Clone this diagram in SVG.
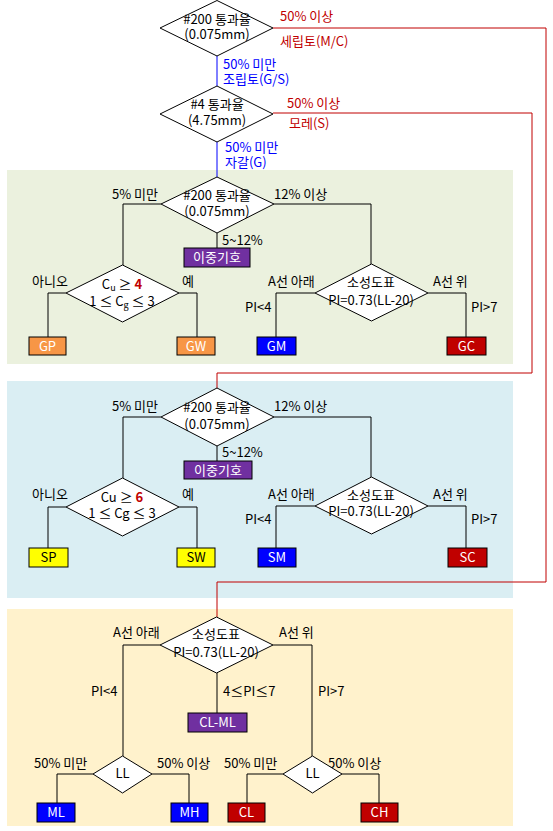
<svg xmlns="http://www.w3.org/2000/svg" width="553" height="831" viewBox="0 0 553 831">
<style>
text{font-family:"Malgun Gothic","Noto Sans CJK KR","Noto Sans",sans-serif;font-size:13px;fill:#000}
.c{text-anchor:middle}
.r{text-anchor:end}
.red{fill:#C00000}
.blue{fill:#0000FF}
.w{fill:#fff}
.k{stroke:#000;stroke-width:1;fill:none}
.kr{stroke:#C00000;stroke-width:1;fill:none}
.kb{stroke:#0000FF;stroke-width:1;fill:none}
.d{fill:#fff;stroke:#000;stroke-width:1}
.box{stroke:#000;stroke-width:1}
.pur{fill:#7030A0}
.org{fill:#F79646}
.bl{fill:#0000FF}
.dr{fill:#C00000}
.yl{fill:#FFFF00}
</style>
<g id="backgrounds">
<rect x="7" y="170" width="506" height="194" fill="#EBF1DE"/>
<rect x="7" y="381" width="506" height="217" fill="#DAEEF3"/>
<rect x="7" y="609" width="506" height="217" fill="#FFF2CC"/>
</g>
<g id="connectors">
<polyline class="kr" points="273,28 546,28 546,582 217,582 217,617"/>
<polyline class="kr" points="273,113 532,113 532,373 217,373 217,388"/>
<line class="kb" x1="217" y1="56" x2="217" y2="86"/>
<line class="kb" x1="217" y1="142" x2="217" y2="177"/>
<polyline class="k" points="161,204 123,204 123,265"/>
<polyline class="k" points="274,204 371,204 371,264"/>
<line class="k" x1="217" y1="233" x2="217" y2="248"/>
<polyline class="k" points="66,293 48,293 48,337"/>
<polyline class="k" points="179,293 197,293 197,337"/>
<polyline class="k" points="315,293 276,293 276,337"/>
<polyline class="k" points="428,293 466,293 466,337"/>
<polyline class="k" points="161,417 123,417 123,478"/>
<polyline class="k" points="274,417 371,417 371,477"/>
<line class="k" x1="217" y1="446" x2="217" y2="461"/>
<polyline class="k" points="66,507 48,507 48,548"/>
<polyline class="k" points="179,507 197,507 197,548"/>
<polyline class="k" points="315,506 276,506 276,548"/>
<polyline class="k" points="428,506 466,506 466,548"/>
<polyline class="k" points="160,645 123,645 123,756"/>
<polyline class="k" points="273,645 312,645 312,756"/>
<line class="k" x1="217" y1="673" x2="217" y2="713"/>
<polyline class="k" points="93,774 57,774 57,803"/>
<polyline class="k" points="152,774 189,774 189,803"/>
<polyline class="k" points="283,774 247,774 247,803"/>
<polyline class="k" points="342,774 379,774 379,803"/>
</g>
<g id="edge-labels">
<text class="red" x="280" y="21">50% 이상</text>
<text class="red" x="280" y="46">세립토(M/C)</text>
<text class="blue" x="223" y="69">50% 미만</text>
<text class="blue" x="223" y="84">조립토(G/S)</text>
<text class="red" x="287" y="108">50% 이상</text>
<text class="red" x="289" y="128">모레(S)</text>
<text class="blue" x="225" y="152">50% 미만</text>
<text class="blue" x="225" y="167">자갈(G)</text>
<text x="112" y="199">5% 미만</text>
<text x="274" y="199">12% 이상</text>
<text x="222" y="245">5~12%</text>
<text x="32" y="286">아니오</text>
<text x="182" y="286">예</text>
<text x="268" y="286">A선 아래</text>
<text x="433" y="286">A선 위</text>
<text x="245" y="312">PI&lt;4</text>
<text x="471" y="312">PI&gt;7</text>
<text x="112" y="411">5% 미만</text>
<text x="274" y="411">12% 이상</text>
<text x="222" y="457">5~12%</text>
<text x="32" y="499">아니오</text>
<text x="182" y="499">예</text>
<text x="268" y="499">A선 아래</text>
<text x="433" y="499">A선 위</text>
<text x="245" y="524">PI&lt;4</text>
<text x="471" y="524">PI&gt;7</text>
<text x="113" y="637">A선 아래</text>
<text x="279" y="637">A선 위</text>
<text x="91" y="696">PI&lt;4</text>
<text x="223" y="696">4≤PI≤7</text>
<text x="318" y="696">PI&gt;7</text>
<text x="34" y="768">50% 미만</text>
<text x="157" y="768">50% 이상</text>
<text x="224" y="768">50% 미만</text>
<text x="328" y="768">50% 이상</text>
</g>
<g id="n-fines200">
<polygon class="d" points="217,0.5 273,28 217,56 160,28"/>
<text class="c" x="217" y="24">#200 통과율</text>
<text class="c" x="217" y="39">(0.075mm)</text>
</g>
<g id="n-no4">
<polygon class="d" points="217,86 273,114 217,142 160,114"/>
<text class="c" x="217" y="109">#4 통과율</text>
<text class="c" x="217" y="125">(4.75mm)</text>
</g>
<g id="n-g-fines">
<polygon class="d" points="217,177 274,204 217,233 161,204"/>
<text class="c" x="217" y="200">#200 통과율</text>
<text class="c" x="217" y="216">(0.075mm)</text>
</g>
<g id="n-g-dual">
<rect class="box pur" x="184" y="248" width="66" height="19"/>
<text class="c w" x="217" y="262">이중기호</text>
</g>
<g id="n-g-cu">
<polygon class="d" points="122.5,265 179,293 122.5,322 66,293"/>
<text class="c" x="122" y="289">C<tspan font-size="9" dy="2">u</tspan><tspan dy="-2"> ≥ </tspan><tspan class="red" font-weight="bold">4</tspan></text>
<text class="c" x="122" y="306">1 ≤ C<tspan font-size="9" dy="2">g</tspan><tspan dy="-2"> ≤ 3</tspan></text>
</g>
<g id="n-g-plast">
<polygon class="d" points="371.5,264 428,293 371.5,321 315,293"/>
<text class="c" x="371" y="287">소성도표</text>
<text class="c" x="371" y="305">PI=0.73(LL-20)</text>
</g>
<g id="n-gp"><rect class="box org" x="29" y="337" width="37" height="18"/><text class="c w" x="47.5" y="351">GP</text></g>
<g id="n-gw"><rect class="box org" x="177" y="337" width="38" height="18"/><text class="c w" x="196" y="351">GW</text></g>
<g id="n-gm"><rect class="box bl" x="257" y="337" width="39" height="18"/><text class="c w" x="276.5" y="351">GM</text></g>
<g id="n-gc"><rect class="box dr" x="447" y="337" width="39" height="18"/><text class="c w" x="466.5" y="351">GC</text></g>
<g id="n-s-fines">
<polygon class="d" points="217,388 274,417 217,446 161,417"/>
<text class="c" x="217" y="412">#200 통과율</text>
<text class="c" x="217" y="429">(0.075mm)</text>
</g>
<g id="n-s-dual">
<rect class="box pur" x="184" y="461" width="68" height="18"/>
<text class="c w" x="218" y="475">이중기호</text>
</g>
<g id="n-s-cu">
<polygon class="d" points="122.5,478 179,507 122.5,536 66,507"/>
<text class="c" x="122" y="502">Cu ≥ <tspan class="red" font-weight="bold">6</tspan></text>
<text class="c" x="122" y="518">1 ≤ Cg ≤ 3</text>
</g>
<g id="n-s-plast">
<polygon class="d" points="371.5,477 428,506 371.5,534 315,506"/>
<text class="c" x="371" y="500">소성도표</text>
<text class="c" x="371" y="516">PI=0.73(LL-20)</text>
</g>
<g id="n-sp"><rect class="box yl" x="29" y="548" width="39" height="19"/><text class="c" x="48.5" y="562">SP</text></g>
<g id="n-sw"><rect class="box yl" x="177" y="548" width="38" height="19"/><text class="c" x="196" y="562">SW</text></g>
<g id="n-sm"><rect class="box bl" x="258" y="548" width="38" height="19"/><text class="c w" x="277" y="562">SM</text></g>
<g id="n-sc"><rect class="box dr" x="448" y="548" width="39" height="19"/><text class="c w" x="467.5" y="562">SC</text></g>
<g id="n-f-plast">
<polygon class="d" points="216.5,617 273,645 216.5,673 160,645"/>
<text class="c" x="216" y="639">소성도표</text>
<text class="c" x="216" y="657">PI=0.73(LL-20)</text>
</g>
<g id="n-clml">
<rect class="box pur" x="188" y="713" width="59" height="19"/>
<text class="c w" x="217.5" y="727">CL-ML</text>
</g>
<g id="n-ll-left">
<polygon class="d" points="122.5,756 152,774 122.5,793 93,774"/>
<text class="c" x="122.5" y="778">LL</text>
</g>
<g id="n-ll-right">
<polygon class="d" points="312.5,756 342,774 312.5,793 283,774"/>
<text class="c" x="312.5" y="778">LL</text>
</g>
<g id="n-ml"><rect class="box bl" x="37" y="803" width="38" height="19"/><text class="c w" x="56" y="817">ML</text></g>
<g id="n-mh"><rect class="box bl" x="171" y="803" width="37" height="19"/><text class="c w" x="189.5" y="817">MH</text></g>
<g id="n-cl"><rect class="box dr" x="228" y="803" width="37" height="19"/><text class="c w" x="246.5" y="817">CL</text></g>
<g id="n-ch"><rect class="box dr" x="361" y="803" width="37" height="19"/><text class="c w" x="379.5" y="817">CH</text></g>
</svg>
